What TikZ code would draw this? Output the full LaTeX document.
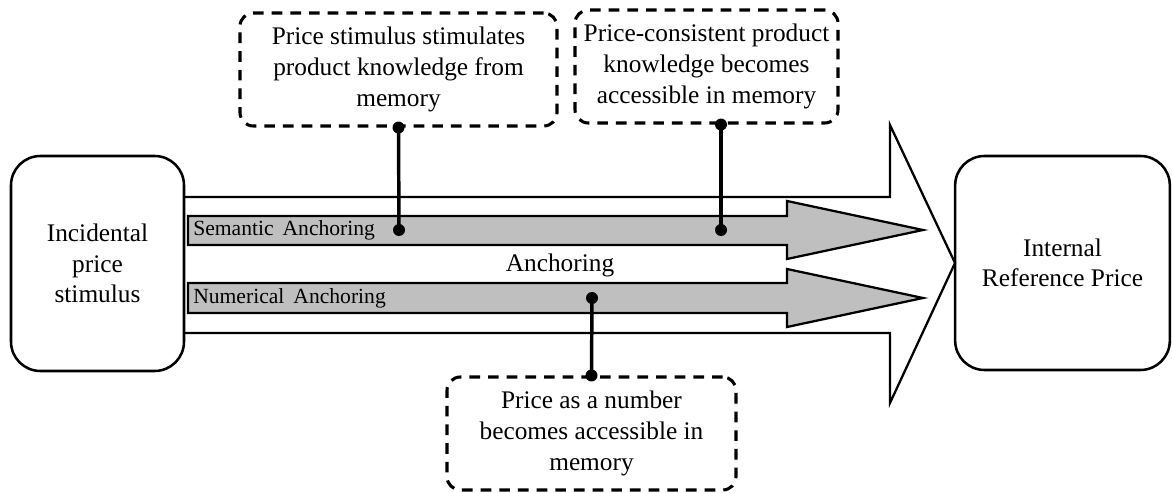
\documentclass[tikz,border=0pt]{standalone}
\usepackage{fontspec}
\setmainfont{Liberation Serif}
\tikzset{
  bigbox/.style={draw,line width=1.9pt,rounded corners=22pt,align=center,
    font=\fontsize{19}{23}\selectfont},
  notebox/.style={draw,line width=2.3pt,dash pattern=on 8pt off 6pt,rounded corners=10pt,
    minimum height=84.75pt,align=center,font=\fontsize{19}{23}\selectfont},
  flowarrow/.style={draw,line width=1.7pt,fill=black!25},
  link/.style={line width=2.6pt}
}
\begin{document}
\begin{tikzpicture}[x=0.75pt,y=0.75pt]
        \useasboundingbox (0,0) rectangle (1172,493);

        \draw[line width=1.7pt] (184,296) -- (890,296) -- (890,368) -- (955,230)
            -- (890,90) -- (890,160) -- (184,160);
        \draw[flowarrow] (188,277) -- (787,277) -- (787,292) -- (923,263)
            -- (787,234) -- (787,248) -- (188,248) -- cycle;
        \draw[flowarrow] (188,210) -- (787,210) -- (787,224) -- (923,195)
            -- (787,166) -- (787,180) -- (188,180) -- cycle;

        \node[bigbox,minimum width=129.75pt,minimum height=161.25pt] (stimulus) at (97.5,229.5)
            {Incidental\\price\\stimulus};
        \node[bigbox,minimum width=161pt,minimum height=160.5pt] (irp) at (1062.5,230)
            {Internal\\Reference Price};

        \node[anchor=west,inner sep=0pt,font=\fontsize{16.2}{18}\selectfont] (semlabel) at (193,262.5)
            {Semantic\, Anchoring};
        \node[anchor=west,inner sep=0pt,font=\fontsize{16.2}{18}\selectfont] (numlabel) at (193,195)
            {Numerical\, Anchoring};
        \node[font=\fontsize{19}{23}\selectfont] (anchoring) at (560,228) {Anchoring};

        \node[notebox,minimum width=237.75pt] (semnote) at (398.5,423.5)
            {Price stimulus stimulates\\product knowledge from\\memory};
        \node[notebox,minimum width=197.25pt] (accnote) at (706.5,426.5)
            {Price-consistent product\\knowledge becomes\\accessible in memory};
        \node[notebox,minimum width=216.75pt] (numnote) at (591.5,59.5)
            {Price as a number\\becomes accessible in\\memory};

        \coordinate (semdot) at (399,263);
        \coordinate (accdot) at (721,263);
        \coordinate (numdot) at (592,195);
        \coordinate (semtop) at (semnote.south);
        \coordinate (acctop) at (accnote.south -| accdot);
        \coordinate (numbot) at (numnote.north);

        \draw[link] (semtop) -- (semdot);
        \draw[link] (acctop) -- (accdot);
        \draw[link] (numdot) -- (numbot);
        \foreach \p in {semdot,accdot,numdot,semtop,acctop,numbot}
            \fill (\p) circle (6);
    \end{tikzpicture}
\end{document}
